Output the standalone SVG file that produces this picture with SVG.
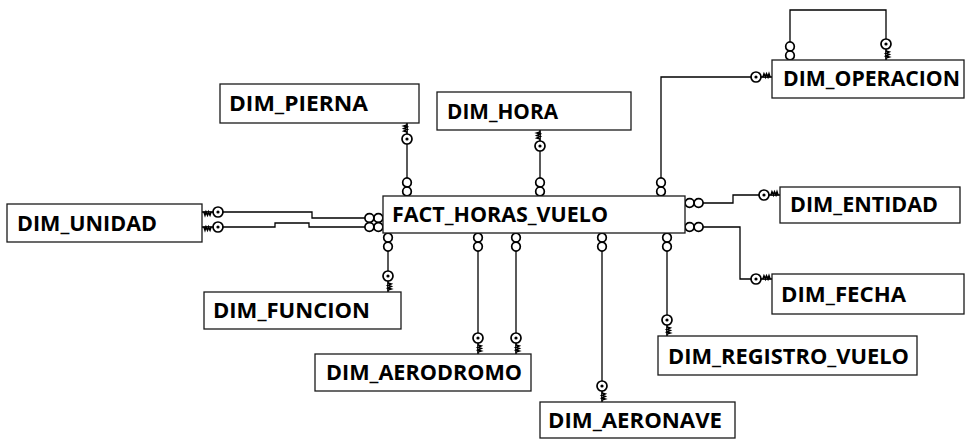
<svg xmlns="http://www.w3.org/2000/svg" xmlns:xlink="http://www.w3.org/1999/xlink" width="966" height="439" viewBox="0 0 966 439">
<style>
.box{fill:#fff;stroke:#1a1a1a;stroke-width:1.3}
.lbl{font-family:"Open Sans","DejaVu Sans",sans-serif;font-weight:bold;font-size:20.5px;fill:#000}
.ln{fill:none;stroke:#000;stroke-width:1.3}
.sym{fill:#fff;stroke:#000;stroke-width:1.7}
</style>
<defs>
<g id="key">
<line x1="0" y1="0" x2="0" y2="-11" class="sym"/>
<polyline points="0,-9 3,-8 0,-6.5 3,-5.5 0,-4 3,-3 0,-2" class="sym" fill="none"/>
<circle cx="0" cy="-16" r="5" class="sym"/>
<circle cx="0" cy="-16" r="1.6" fill="#000"/>
</g>
<g id="inf">
<ellipse cx="0" cy="-4.6" rx="4.3" ry="4.5" class="sym"/>
<ellipse cx="0" cy="-13.6" rx="4.3" ry="4.5" class="sym"/>
</g>
</defs>

<g id="connectors">
<path class="ln" d="M407,144 V178"/>
<path class="ln" d="M540,151 V178"/>
<path class="ln" d="M661,178 V77 H751"/>
<path class="ln" d="M790,42 V10 H886 V39"/>
<path class="ln" d="M223,212 H312 V218 H365"/>
<path class="ln" d="M223,227 H275 V223 H309 V227 H365"/>
<path class="ln" d="M388,251 V271"/>
<path class="ln" d="M478,251 V333"/>
<path class="ln" d="M516,251 V333"/>
<path class="ln" d="M602,251 V381"/>
<path class="ln" d="M667,251 V315"/>
<path class="ln" d="M703,203 H733 V195 H759"/>
<path class="ln" d="M703,227 H740 V279 H751"/>
<use xlink:href="#inf" transform="translate(407,196)"/>
<use xlink:href="#key" transform="translate(407,123) rotate(180)"/>
<use xlink:href="#inf" transform="translate(540,196)"/>
<use xlink:href="#key" transform="translate(540,130) rotate(180)"/>
<use xlink:href="#inf" transform="translate(661,196)"/>
<use xlink:href="#key" transform="translate(772,77) rotate(-90)"/>
<use xlink:href="#inf" transform="translate(790,60)"/>
<use xlink:href="#key" transform="translate(886,60)"/>
<use xlink:href="#key" transform="translate(202,212) rotate(90)"/>
<use xlink:href="#key" transform="translate(202,227) rotate(90)"/>
<use xlink:href="#inf" transform="translate(383,218) rotate(-90)"/>
<use xlink:href="#inf" transform="translate(383,227) rotate(-90)"/>
<use xlink:href="#inf" transform="translate(388,233) rotate(180)"/>
<use xlink:href="#key" transform="translate(388,292)"/>
<use xlink:href="#inf" transform="translate(478,233) rotate(180)"/>
<use xlink:href="#key" transform="translate(478,354)"/>
<use xlink:href="#inf" transform="translate(516,233) rotate(180)"/>
<use xlink:href="#key" transform="translate(516,354)"/>
<use xlink:href="#inf" transform="translate(602,233) rotate(180)"/>
<use xlink:href="#key" transform="translate(602,402)"/>
<use xlink:href="#inf" transform="translate(667,233) rotate(180)"/>
<use xlink:href="#key" transform="translate(667,336)"/>
<use xlink:href="#inf" transform="translate(685,203) rotate(90)"/>
<use xlink:href="#key" transform="translate(780,195) rotate(-90)"/>
<use xlink:href="#inf" transform="translate(685,227) rotate(90)"/>
<use xlink:href="#key" transform="translate(772,279) rotate(-90)"/>
</g>

<g id="FACT_HORAS_VUELO"><rect class="box" x="383" y="196" width="302" height="37"/><text class="lbl" x="392" y="222" textLength="216" lengthAdjust="spacingAndGlyphs">FACT_HORAS_VUELO</text></g>
<g id="DIM_PIERNA"><rect class="box" x="220" y="84" width="199" height="39"/><text class="lbl" x="229" y="111" textLength="139" lengthAdjust="spacingAndGlyphs">DIM_PIERNA</text></g>
<g id="DIM_HORA"><rect class="box" x="437" y="92" width="194" height="38"/><text class="lbl" x="447" y="119" textLength="111" lengthAdjust="spacingAndGlyphs">DIM_HORA</text></g>
<g id="DIM_OPERACION"><rect class="box" x="772" y="60" width="192" height="38"/><text class="lbl" x="783" y="86" textLength="177" lengthAdjust="spacingAndGlyphs">DIM_OPERACION</text></g>
<g id="DIM_UNIDAD"><rect class="box" x="7" y="204" width="195" height="38"/><text class="lbl" x="17" y="231" textLength="140" lengthAdjust="spacingAndGlyphs">DIM_UNIDAD</text></g>
<g id="DIM_ENTIDAD"><rect class="box" x="780" y="187" width="180" height="36"/><text class="lbl" x="790" y="212" textLength="148" lengthAdjust="spacingAndGlyphs">DIM_ENTIDAD</text></g>
<g id="DIM_FECHA"><rect class="box" x="772" y="274" width="192" height="40"/><text class="lbl" x="781" y="302" textLength="125" lengthAdjust="spacingAndGlyphs">DIM_FECHA</text></g>
<g id="DIM_FUNCION"><rect class="box" x="204" y="292" width="197" height="37"/><text class="lbl" x="213" y="318" textLength="157" lengthAdjust="spacingAndGlyphs">DIM_FUNCION</text></g>
<g id="DIM_AERODROMO"><rect class="box" x="315" y="354" width="216" height="37"/><text class="lbl" x="326" y="380" textLength="196" lengthAdjust="spacingAndGlyphs">DIM_AERODROMO</text></g>
<g id="DIM_AERONAVE"><rect class="box" x="540" y="402" width="195" height="36"/><text class="lbl" x="548" y="428" textLength="174" lengthAdjust="spacingAndGlyphs">DIM_AERONAVE</text></g>
<g id="DIM_REGISTRO_VUELO"><rect class="box" x="658" y="336" width="259" height="39"/><text class="lbl" x="668" y="364" textLength="241" lengthAdjust="spacingAndGlyphs">DIM_REGISTRO_VUELO</text></g>
</svg>
